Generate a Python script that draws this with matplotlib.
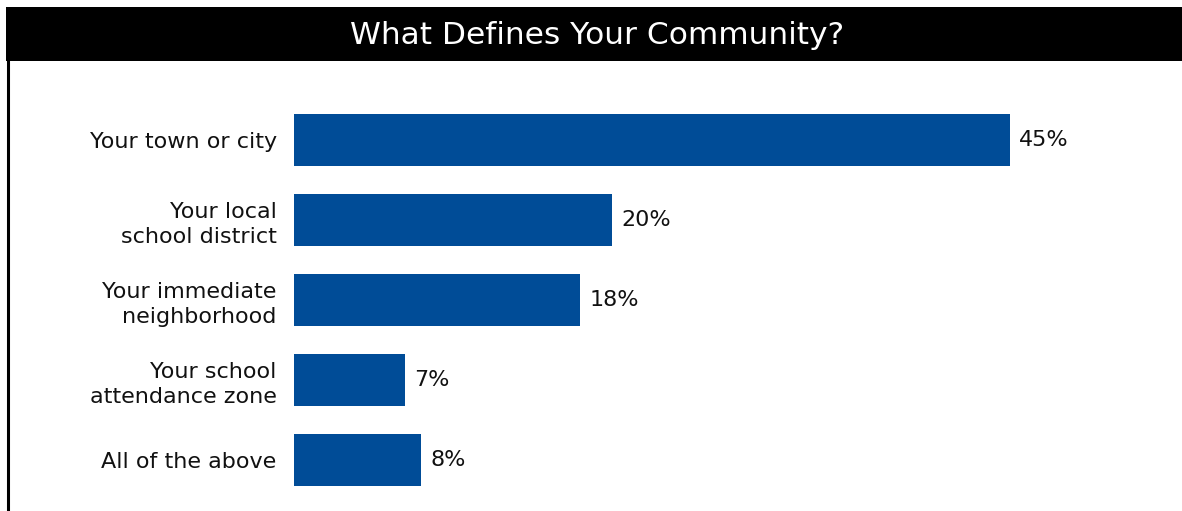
import matplotlib.pyplot as plt
from matplotlib.patches import Rectangle
from matplotlib.lines import Line2D

# data
categories = ["Your town or city", "Your local\nschool district", "Your immediate\nneighborhood",
              "Your school\nattendance zone", "All of the above"]
values = [45, 20, 18, 7, 8]
labels = ["45%", "20%", "18%", "7%", "8%"]

W, H = 1182, 511
fig = plt.figure(figsize=(W / 100, H / 100), dpi=100)
plt.rcParams['font.family'] = ['DejaVu Sans']

# title bar
fig.patches.append(Rectangle((6 / W, 1 - 61 / H), 1 - 6 / W, 54 / H, transform=fig.transFigure,
                             facecolor='black', edgecolor='none'))
fig.text(597 / W, 1 - 36 / H, "What Defines Your Community?", color='white', fontsize=22.5,
         ha='center', va='center')
# left border
fig.lines.append(Line2D([7.5 / W, 7.5 / W], [0, 1 - 61 / H], transform=fig.transFigure,
                        color='black', linewidth=2.2))

ax = fig.add_axes([294 / W, 0, 1 - 294 / W, 1 - 62 / H])
ypos = list(range(len(categories)))
ax.barh(ypos, values, height=0.64, color='#004C97')
for y, v, t in zip(ypos, values, labels):
    ax.annotate(t, (v, y), xytext=(6.5, 0), textcoords='offset points', va='center', ha='left',
                fontsize=16, color='#111111')

ax.set_xlim(0, (W - 294) / 15.9)
ax.set_ylim(4.6375, -0.975)
ax.set_yticks(ypos)
ax.set_yticklabels(categories, fontsize=16, color='#111111', ha='right', linespacing=1.3)
ax.tick_params(axis='y', length=0, pad=12.5)
ax.set_xticks([])
for s in ax.spines.values():
    s.set_visible(False)

fig.savefig('out.png', dpi=100)
